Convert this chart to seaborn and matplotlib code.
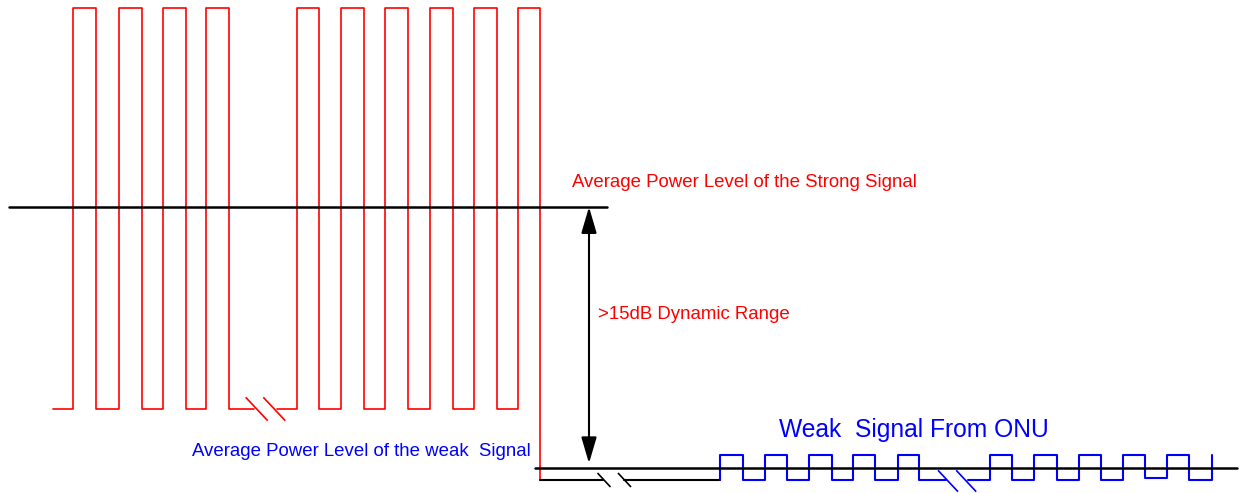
import numpy as np
import pandas as pd
import seaborn as sns
from matplotlib import pyplot as plt

sns.set_style("white")
plt.rcParams['font.family'] = ['Liberation Sans', 'DejaVu Sans']

# levels (arbitrary power units)
strong_high = 485
strong_low = 84
strong_avg = 286
weak_high = 38
weak_low = 13
weak_avg = 25.5

# strong signal (red): edge times and the level after each edge
strong_a_t = [53, 73, 96, 119, 142, 163, 186, 206, 229, 254.5]
strong_a_lvl = [strong_low, strong_high, strong_low, strong_high, strong_low,
                strong_high, strong_low, strong_high, strong_low, strong_low]
strong_b_t = [276.7, 297, 319, 341, 364, 385, 408, 430, 453, 474, 497, 518, 540]
strong_b_lvl = [strong_low, strong_high, strong_low, strong_high, strong_low,
                strong_high, strong_low, strong_high, strong_low, strong_high,
                strong_low, strong_high, weak_low]

# idle line before the weak burst (black)
idle_a_t = [540, 603]
idle_b_t = [624, 720]

# weak signal (blue)
weak_a_t = [720, 720, 742.7, 765, 787, 809, 832, 853, 875, 898, 919, 946]
weak_a_lvl = [weak_low, weak_high, weak_low, weak_high, weak_low, weak_high,
              weak_low, weak_high, weak_low, weak_high, weak_low, weak_low]
weak_b_t = [968, 990, 1012, 1034, 1057, 1079, 1101, 1123, 1145, 1167, 1189, 1212]
weak_b_lvl = [weak_low, weak_high, weak_low, weak_high, weak_low, weak_high,
              weak_low, weak_high, 15.3, weak_high, weak_low, weak_high]

RED = "#ff0000"
BLUE = "#0000ff"


def step(ax, t, lvl, color, lw):
    df = pd.DataFrame({'t': t, 'lvl': lvl})
    sns.lineplot(data=df, x='t', y='lvl', drawstyle='steps-post', color=color,
                 linewidth=lw, estimator=None, sort=False, ax=ax)


def draw_break(ax, x, y, hw, hh, color, lw):
    # two parallel slashes marking a time break
    for dx in x:
        ax.plot([dx - hw, dx + hw], [y + hh, y - hh], color=color, lw=lw,
                solid_capstyle='butt')


fig = plt.figure(figsize=(12.43, 4.93), dpi=100)
ax = fig.add_axes([0, 0, 1, 1])

step(ax, strong_a_t, strong_a_lvl, RED, 1.2)
step(ax, strong_b_t, strong_b_lvl, RED, 1.2)
step(ax, idle_a_t, [weak_low] * 2, 'black', 1.5)
step(ax, idle_b_t, [weak_low] * 2, 'black', 1.5)
step(ax, weak_a_t, weak_a_lvl, BLUE, 1.5)
step(ax, weak_b_t, weak_b_lvl, BLUE, 1.5)

# average power levels
ax.plot([9, 607], [strong_avg, strong_avg], color='black', lw=1.8)
ax.plot([535, 1237], [weak_avg, weak_avg], color='black', lw=1.8)

# break marks
draw_break(ax, [256.7, 274.3], strong_low, 11, 11.7, RED, 1.2)
draw_break(ax, [604, 624.5], weak_low, 6.5, 7, 'black', 1.2)
draw_break(ax, [948, 966.2], 12, 10, 10.7, BLUE, 1.2)

# dynamic range arrow
ax.annotate('', xy=(589, strong_avg), xytext=(589, 29.7),
            arrowprops=dict(arrowstyle='<|-|>,head_length=1.6,head_width=0.47',
                            mutation_scale=10, color='black', lw=1.5,
                            shrinkA=0, shrinkB=0))

ax.text(571.7, 493 - 187.3, 'Average Power Level of the Strong Signal',
        color=RED, fontsize=13.45, va='baseline', ha='left')
ax.text(598, 493 - 319.3, '>15dB Dynamic Range',
        color=RED, fontsize=13.4, va='baseline', ha='left')
ax.text(779, 493 - 437, 'Weak  Signal From ONU',
        color=BLUE, fontsize=17.7, va='baseline', ha='left')
ax.text(192.3, 493 - 456, 'Average Power Level of the weak  Signal',
        color=BLUE, fontsize=13.4, va='baseline', ha='left')

ax.set_xlim(0, 1243)
ax.set_ylim(0, 493)
ax.axis('off')

fig.savefig('out.png', dpi=100)
